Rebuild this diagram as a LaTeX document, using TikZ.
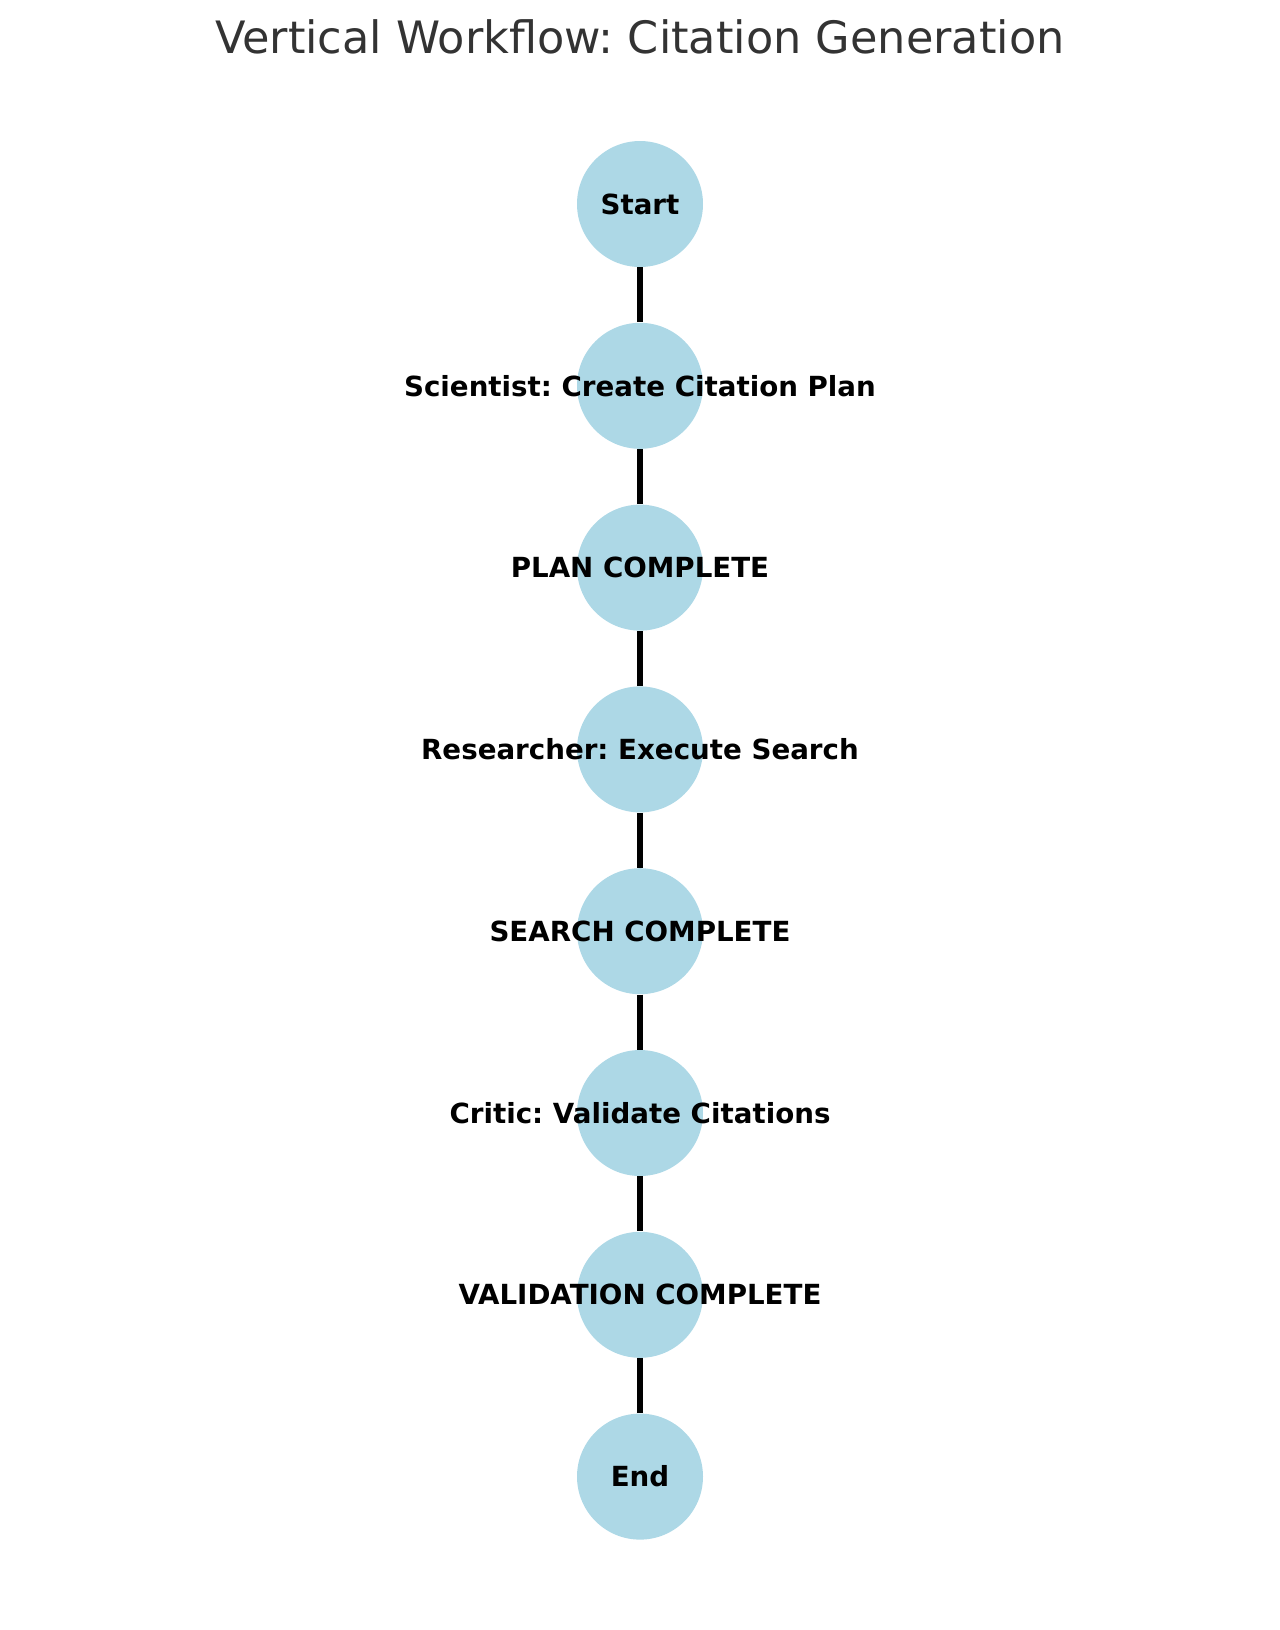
\documentclass[tikz,border=0pt]{standalone}
\usepackage{fontspec}
\setmainfont{DejaVu Sans}
\usetikzlibrary{positioning}
\frenchspacing

\definecolor{NodeBlue}{RGB}{173,216,230}
\definecolor{TitleGrey}{RGB}{51,51,51}

\tikzset{
  stepdot/.style={circle,fill=NodeBlue,minimum size=63pt,inner sep=0pt},
  steptext/.style={font=\fontsize{13.85}{16}\selectfont\bfseries,text=black,inner sep=0pt},
  link/.style={line width=3pt,black}
}

\begin{document}
\begin{tikzpicture}[x=0.5pt,y=-0.5pt]

\useasboundingbox (0,0) rectangle (1280,1630);

%Title
\node[anchor=base,text=TitleGrey,font=\fontsize{22.3}{26}\selectfont] (title) at (640,53) {Vertical Workflow: Citation Generation};

%Circles
\node[stepdot] (start)  at (640,204)   {};
\node[stepdot] (plan)   at (640,385.8) {};
\node[stepdot] (plandone) at (640,567.6) {};
\node[stepdot] (search) at (640,749.4) {};
\node[stepdot] (searchdone) at (640,931.2) {};
\node[stepdot] (critic) at (640,1113)  {};
\node[stepdot] (valdone) at (640,1294.8) {};
\node[stepdot] (end)    at (640,1476.6) {};

%Links
\draw[link] (start) -- (plan);
\draw[link] (plan) -- (plandone);
\draw[link] (plandone) -- (search);
\draw[link] (search) -- (searchdone);
\draw[link] (searchdone) -- (critic);
\draw[link] (critic) -- (valdone);
\draw[link] (valdone) -- (end);

%Labels
\node[steptext] (startlabel)  at (start)      {Start};
\node[steptext] (planlabel)   at (plan)       {Scientist: Create Citation Plan};
\node[steptext] (plandonelabel) at (plandone) {PLAN COMPLETE};
\node[steptext] (searchlabel) at (search)     {Researcher: Execute Search};
\node[steptext] (searchdonelabel) at (searchdone) {SEARCH COMPLETE};
\node[steptext] (criticlabel) at (critic)     {Critic: Validate Citations};
\node[steptext] (valdonelabel) at (valdone)   {VALIDATION COMPLETE};
\node[steptext] (endlabel)    at (end)        {End};

\end{tikzpicture}
\end{document}
